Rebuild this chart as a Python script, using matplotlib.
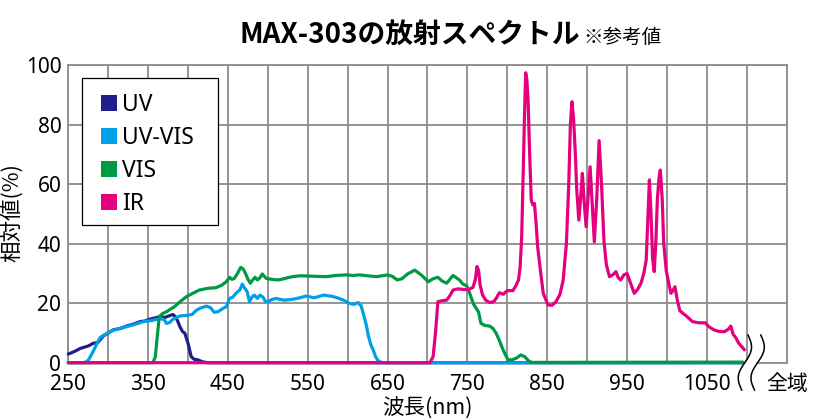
import numpy as np
import matplotlib
matplotlib.use('Agg')
import matplotlib.pyplot as plt
from matplotlib.patches import Patch, Rectangle

plt.rcParams['font.family'] = ['Noto Sans', 'Noto Sans CJK JP']

# spectrum values (wavelength nm, relative %)
uv_nm = [250, 258, 265, 275, 281, 287, 294, 300, 306, 315, 323, 332, 340, 346,
         352, 358, 365, 371, 377, 381, 384, 387, 390, 393, 396, 400, 404, 408,
         412, 418, 425, 1095]
uv_pct = [2.9, 3.8, 4.8, 5.6, 6.5, 6.8, 9.0, 10.0, 11.0, 11.5, 12.3, 13.0, 13.8, 14.0,
          14.6, 15.0, 15.5, 15.2, 15.8, 16.2, 15.5, 14.0, 12.0, 10.5, 9.9, 6.5, 2.0, 1.1,
          1.0, 0.3, 0, 0]

uvvis_nm = [250, 270, 275, 281, 286, 290, 296, 302, 310, 323, 335, 344, 355, 365,
            370, 373, 377, 381, 390, 398, 405, 410, 415, 423, 428, 433, 438, 444,
            448, 452, 456, 460, 465, 468, 471, 474, 477, 480, 483, 487, 490, 494,
            497, 500, 505, 510, 520, 531, 540, 548, 558, 570, 580, 586, 595, 602,
            608, 613, 617, 620, 623, 626, 629, 632, 635, 638, 641, 645, 1095]
uvvis_pct = [0, 0, 0.8, 3.7, 6.5, 8.5, 9.5, 10.4, 11.2, 12.1, 13.0, 13.8, 14.2, 14.8,
             14.5, 13.2, 13.5, 14.6, 15.7, 15.9, 16.2, 17.5, 18.3, 19.0, 18.5, 16.9, 17.2, 18.3,
             18.8, 21.6, 22.0, 23.3, 24.5, 26.4, 25.0, 23.9, 20.5, 22.0, 22.7, 21.6, 22.7, 22.0,
             20.5, 20.5, 21.2, 21.6, 21.0, 21.3, 21.8, 22.4, 21.8, 22.7, 22.3, 21.9, 21.0, 19.9,
             19.6, 20.2, 19.0, 16.0, 13.0, 9.0, 6.0, 4.3, 2.0, 0.7, 0.2, 0, 0]

vis_nm = [250, 356, 359, 361, 364, 368, 373, 378, 383, 390, 398, 406, 414, 425,
          435, 442, 448, 452, 455, 458, 462, 466, 469, 472, 475, 478, 481, 484,
          487, 490, 493, 498, 505, 512, 517, 524, 531, 540, 552, 562, 573, 585,
          598, 607, 615, 625, 636, 643, 650, 656, 662, 668, 675, 684, 692, 701,
          707, 713, 718, 724, 732, 740, 744, 749, 752, 755, 758, 761, 764, 767,
          772, 778, 782, 786, 790, 793, 797, 801, 806, 811, 817, 822, 826, 830,
          1095]
vis_pct = [0, 0, 2, 7.6, 15.5, 16.5, 17.1, 18.0, 18.8, 20.5, 22.2, 23.3, 24.4, 25.0,
           25.2, 26.0, 27.2, 28.7, 28.0, 28.3, 30.0, 32.0, 31.5, 30.0, 28.0, 26.7, 27.8, 28.7,
           27.8, 28.5, 29.8, 28.3, 28.0, 27.8, 28.0, 28.5, 28.9, 29.2, 29.1, 29.0, 28.9, 29.3,
           29.5, 29.3, 29.5, 29.2, 28.9, 29.2, 29.5, 29.0, 27.8, 28.2, 29.8, 31.1, 29.5, 27.2,
           28.2, 28.7, 27.5, 26.7, 29.3, 27.8, 26.5, 25.8, 24.0, 21.6, 19.5, 18.3, 17.0, 13.2,
           12.5, 12.3, 11.5, 9.9, 7.5, 5.4, 3.0, 0.9, 1.0, 1.5, 2.6, 2.0, 0.8, 0.1,
           0.2]

ir_nm = [250, 703, 707, 710, 713, 718, 724, 728, 732, 738, 745, 751, 757, 760,
         762, 764, 766, 769, 773, 778, 783, 786, 790, 795, 800, 807, 811, 814,
         816, 818, 820, 821.5, 823, 824.5, 826, 828, 830, 832, 834, 836, 838, 841,
         845, 851, 856, 861, 866, 870, 874, 877, 879, 881, 883, 885, 887, 889.6,
         892, 894, 896, 898.7, 901, 903.7, 906, 909, 912, 915, 918, 921, 924, 928,
         932, 936, 939, 942, 946, 950, 954, 959, 963, 967.5, 971, 974, 976, 978,
         980, 982, 984, 986, 988, 990, 991.7, 994, 996, 999, 1002, 1005, 1008, 1010,
         1013, 1016, 1020, 1025, 1032, 1040, 1048, 1053, 1059, 1065, 1072, 1077, 1080, 1083,
         1086, 1090, 1094, 1097]
ir_pct = [0, 0, 2, 10, 20.5, 20.8, 21.0, 22.5, 24.4, 24.8, 24.6, 24.5, 25.3, 28,
          32.3, 31, 26, 22.7, 21.0, 20.2, 20.5, 21.6, 23.5, 23.0, 24.2, 24.2, 26.0, 27.8,
          32, 42.3, 65, 82.6, 97.4, 95, 88.2, 70, 54.6, 53, 53.5, 47, 39, 32,
          23.3, 19.4, 19.3, 20.5, 23, 27.8, 40, 60.2, 80, 87.7, 82, 71.4, 58, 47.9,
          56, 63.6, 55, 45.7, 55, 65.8, 55, 40.6, 55, 74.6, 60, 41.2, 33, 28.9,
          29.5, 30.6, 28.5, 27.8, 29.5, 30.0, 27, 23.3, 24.5, 26.7, 30, 34.5, 48, 61.4,
          50, 35, 30.6, 40, 55, 62, 64.7, 55, 40, 31.1, 27, 23.3, 24.5, 25.5,
          21, 17.5, 16.6, 15.5, 13.8, 13.4, 13.4, 12.0, 11.0, 10.5, 10.4, 11.3, 12.3, 9.5,
          8.5, 6.5, 5.3, 4.3]

series_labels = ['UV', 'UV-VIS', 'VIS', 'IR']
series_colors = ['#1d2088', '#00a0e9', '#009944', '#e4007f']

x_ticks = list(range(250, 1151, 50))
x_labels = [str(v) if v <= 1050 and (v - 250) % 100 == 0 else '' for v in x_ticks]
x_labels[-1] = '全域'
y_ticks = [0, 20, 40, 60, 80, 100]

grid_c = '#8c8c8c'

fig = plt.figure(figsize=(8.2, 4.2), dpi=100)
ax = fig.add_axes([68.3 / 820, 1 - 362.7 / 420, 718.4 / 820, 297.7 / 420])

data = [(uv_nm, uv_pct), (uvvis_nm, uvvis_pct), (vis_nm, vis_pct), (ir_nm, ir_pct)]
for (xs, ys), lab, col in zip(data, series_labels, series_colors):
    ax.plot(xs, ys, color=col, lw=2.3, label=lab, clip_on=False, zorder=3,
            solid_joinstyle='round', solid_capstyle='round')

ax.set_xlim(250, 1150)
ax.set_ylim(0, 100)
ax.set_xticks(x_ticks)
ax.set_xticklabels(x_labels)
ax.set_yticks(y_ticks)
ax.tick_params(length=0, labelsize=15, colors='black')
ax.tick_params(axis='x', pad=8)
ax.tick_params(axis='y', pad=5)
ax.grid(True, color=grid_c, lw=1.3)
ax.set_axisbelow(True)
for sp in ax.spines.values():
    sp.set_color(grid_c)
    sp.set_linewidth(1.3)

ax.set_xlabel('波長(nm)', fontsize=15.5, family=['Noto Sans CJK JP'], labelpad=2)
ax.set_ylabel('相対値(%)', fontsize=15.5, family=['Noto Sans CJK JP'], va='center')
ax.yaxis.set_label_coords(-0.079, 0.505)

# axis break marks
t = np.linspace(0, 1, 60)
by = 9.3 - 18.5 * t
bx1 = 1097.6 + 3.9 * (1 - 2 * t) + 6.25 * np.sin(2 * np.pi * t)
bx2 = bx1 + 16
ax.fill_betweenx(by, bx1, bx2, color='white', clip_on=False, zorder=4, lw=0)
ax.plot(bx1, by, color='black', lw=1.1, clip_on=False, zorder=5)
ax.plot(bx2, by, color='black', lw=1.1, clip_on=False, zorder=5)

# legend
ax.add_patch(Rectangle((0.0192, 0.4626), 0.1896, 0.4947, transform=ax.transAxes,
                       facecolor='white', edgecolor='black', lw=0.9, zorder=6))
handles = [Patch(facecolor=c, edgecolor='none') for c in series_colors]
leg = ax.legend(handles, series_labels, loc='upper left', bbox_to_anchor=(0.0451, 0.9066),
                frameon=False, fontsize=16.5, handlelength=0.71, handleheight=0.71,
                handletextpad=0.22, labelspacing=0.4, borderpad=0, borderaxespad=0)
leg.set_zorder(7)

fig.text(240 / 820, 1 - 43 / 420, 'MAX-303の放射スペクトル', fontsize=20,
         fontweight='bold', family=['Noto Sans CJK JP'], va='baseline')
fig.text(583 / 820, 1 - 43 / 420, '※参考値', fontsize=14,
         family=['Noto Sans CJK JP'], va='baseline')

fig.savefig('out.png', dpi=100)
